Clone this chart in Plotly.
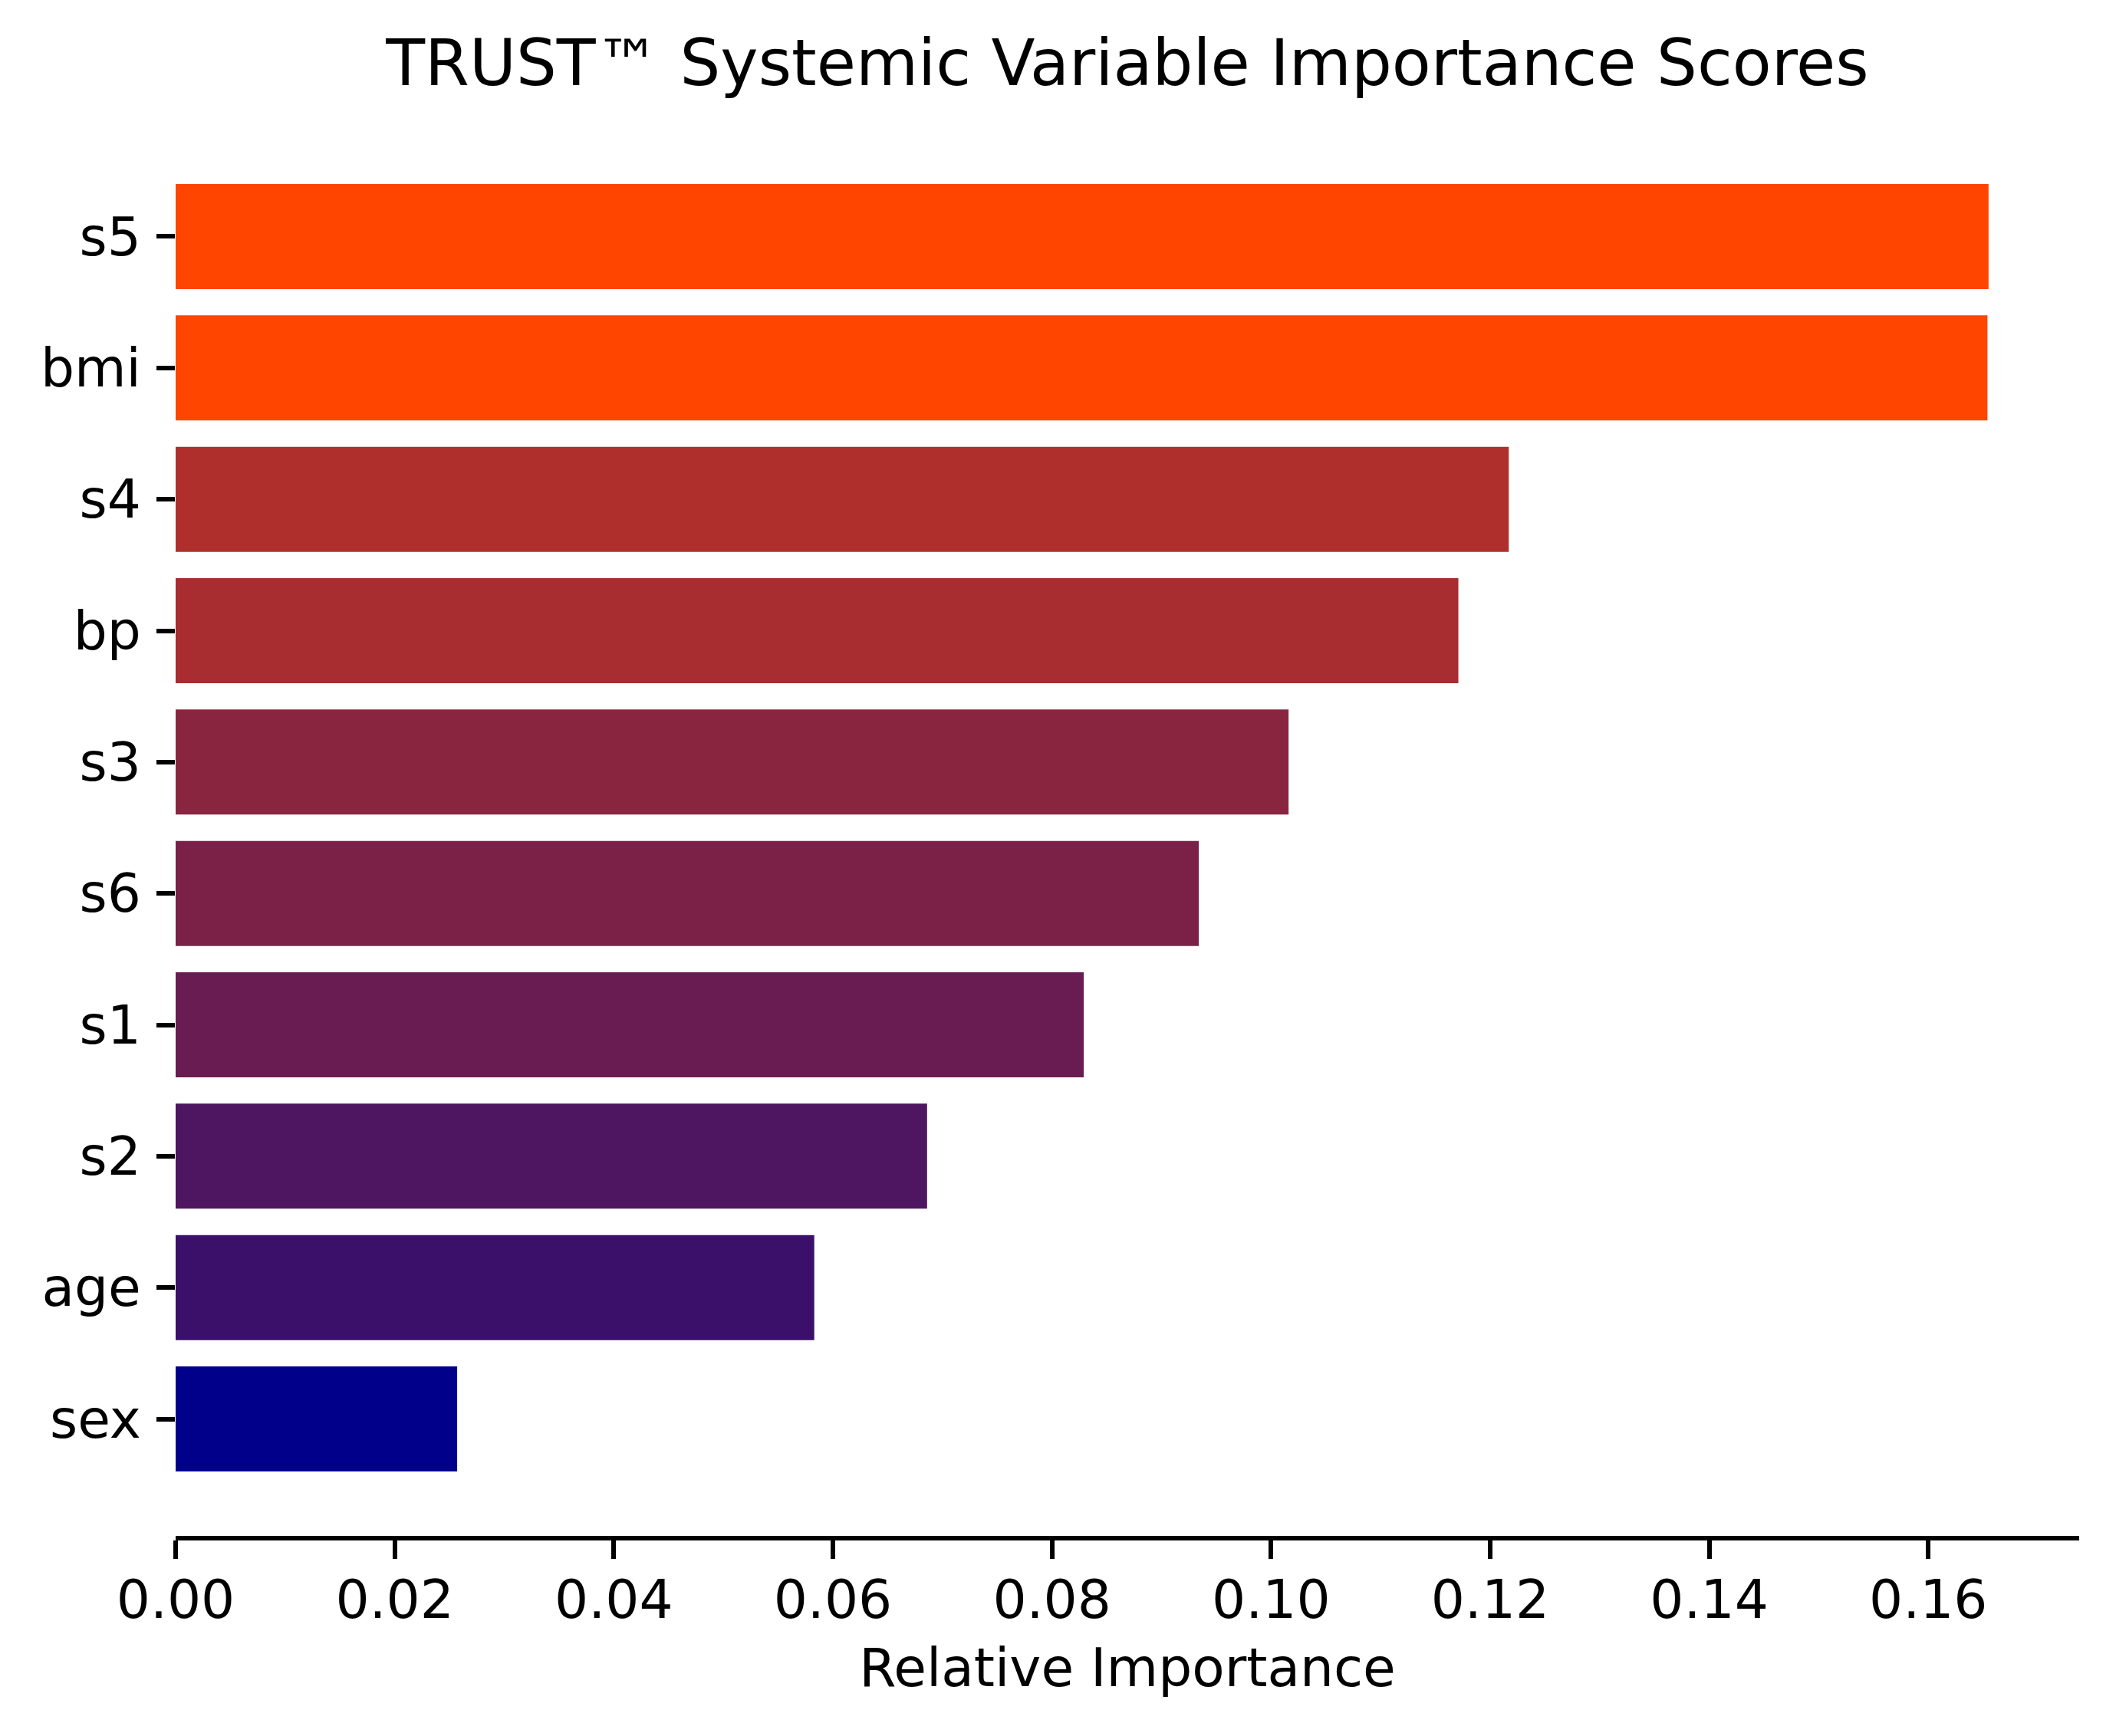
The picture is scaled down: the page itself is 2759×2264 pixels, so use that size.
import plotly.graph_objects as go

# Data (bottom to top, as drawn by a horizontal bar chart)
features = ["sex", "age", "s2", "s1", "s6", "s3", "bp", "s4", "bmi", "s5"]
importance = [0.0257, 0.0583, 0.0686, 0.0829, 0.0934, 0.1016, 0.1171, 0.1217, 0.1654, 0.1655]
x_ticks = [0.00, 0.02, 0.04, 0.06, 0.08, 0.10, 0.12, 0.14, 0.16]

title_text = "TRUST™ Systemic Variable Importance Scores"
x_title = "Relative Importance"

W, H = 2759, 2264
FONT = "DejaVu Sans"
TICK_PX = 69.4
TITLE_PX = 83.3
LW = 5.56
TICKLEN = 24.3

M_L, M_R, M_T, M_B = 229, 48, 156, 260.5

vmin, vmax = min(importance), max(importance)

fig = go.Figure(
    go.Bar(
        x=importance,
        y=features,
        orientation="h",
        width=0.8,
        marker=dict(
            color=importance,
            colorscale=[[0, "#00008B"], [1, "#FF4500"]],
            cmin=vmin,
            cmax=vmax,
            line=dict(width=0),
        ),
        showlegend=False,
    )
)

n = len(features)
pad_y = 0.05 * ((n - 1) + 0.8)
fig.update_layout(
    width=W,
    height=H,
    margin=dict(l=M_L, r=M_R, t=M_T, b=M_B, pad=0),
    paper_bgcolor="white",
    plot_bgcolor="white",
    font=dict(family=FONT, color="black", size=TICK_PX),
    title=dict(
        text=title_text,
        font=dict(family=FONT, size=TITLE_PX, color="black"),
        x=0.5,
        xanchor="center",
        xref="paper",
        yref="container",
        y=1 - 111 / H,
        yanchor="bottom",
    ),
    bargap=0.2,
)

fig.update_xaxes(
    range=[0, 1.05 * vmax],
    tickmode="array",
    tickvals=x_ticks,
    ticktext=[f"{v:.2f}" for v in x_ticks],
    showgrid=False,
    zeroline=False,
    showline=True,
    linecolor="black",
    linewidth=LW,
    ticks="outside",
    ticklen=TICKLEN,
    tickwidth=LW,
    tickcolor="black",
    ticklabelstandoff=-6,
    tickfont=dict(family=FONT, size=TICK_PX, color="black"),
    title=dict(text=x_title, font=dict(family=FONT, size=TICK_PX, color="black"), standoff=27),
)

fig.update_yaxes(
    type="category",
    categoryorder="array",
    categoryarray=features,
    range=[-0.4 - pad_y, (n - 1) + 0.4 + pad_y],
    showgrid=False,
    zeroline=False,
    showline=False,
    ticks="outside",
    ticklen=TICKLEN,
    tickwidth=LW,
    tickcolor="black",
    ticklabelstandoff=6,
    tickfont=dict(family=FONT, size=TICK_PX, color="black"),
)

fig.write_html(
    "out.html",
    config={"displayModeBar": False},
    post_script="document.body.style.margin='0';",
)
